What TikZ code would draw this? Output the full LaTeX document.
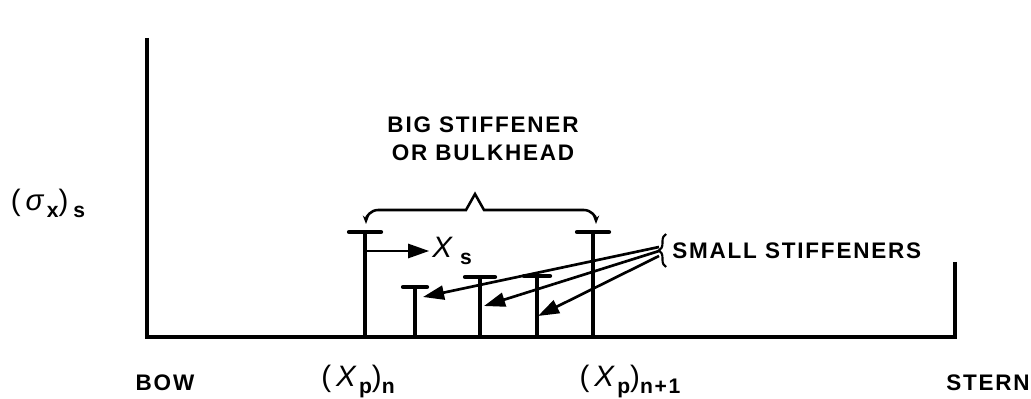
\documentclass[tikz,border=0pt]{standalone}
\usepackage{fontspec}
\setmainfont{Liberation Sans}[LetterSpace=8]
\usetikzlibrary{arrows.meta,positioning,decorations.pathreplacing}
\newcommand{\lowr}[1]{\raisebox{-0.45ex}{\fontsize{15}{15}\selectfont\bfseries #1}}

\begin{document}
\begin{tikzpicture}[x=0.025cm,y=-0.025cm,
  axisline/.style={line width=2.2pt},
  stem/.style={line width=2.6pt},
  flange/.style={line width=3pt,line cap=round},
  lbl/.style={font=\fontsize{16}{20}\selectfont\bfseries,inner sep=0pt},
  big/.style={font=\fontsize{21}{20}\selectfont\mdseries},
  ptr/.style={line width=1.9pt,-{Triangle[length=15pt,width=10pt]}},
]
  \useasboundingbox (0,0) rectangle (1031,399);
  % axes
  \coordinate (ytop) at (147,38);
  \coordinate (origin) at (147,337);
  \coordinate (xend) at (957,337);
  \coordinate (sterntop) at (955,262);
  \coordinate (sternbase) at (955,337);
  \draw[axisline] (ytop) -- (origin) -- (xend);
  \draw[axisline] (sterntop) -- (sternbase);
  % stiffeners: name/x/top/half flange
  \foreach \n/\x/\t/\w in {bigA/365/232/16, smA/415/287/12, smB/480/277/15, smC/537/276/13, bigB/593/232/16} {
    \coordinate (\n-base) at (\x,337);
    \coordinate (\n-top) at (\x,\t);
    \draw[stem] (\n-base) -- (\n-top);
    \draw[flange] (\x-\w,\t) -- (\x+\w,\t);
  }
  % distance from the big stiffener
  \coordinate (xs-start) at (365,251);
  \node[lbl,big,anchor=west] (xs) at (432,251) {\textit{X}\,\lowr{s}};
  \draw[ptr,shorten >=2pt] (xs-start) -- (xs.west);
  % big stiffener label and brace
  \node[lbl,align=center] (bigtext) at (483,139) {BIG STIFFENER\\OR BULKHEAD};
  \draw[line width=1.8pt,{Stealth[length=6pt]}-{Stealth[length=6pt]}]
    (366,224) to[out=90,in=180] (378,210) -- (466,210) -- (475,194) -- (484,210)
    -- (584,210) to[out=0,in=90] (596,224);
  % small stiffeners label and pointers
  \draw[line width=1.5pt,decorate,decoration={brace,amplitude=5pt}] (666,267) -- (666,234);
  \node[lbl,anchor=west] (small) at (672,251) {SMALL STIFFENERS};
  \coordinate (fanA) at (659,247);
  \coordinate (fanB) at (659,251);
  \coordinate (fanC) at (659,256);
  \coordinate (smA-hit) at (423,297);
  \coordinate (smB-hit) at (484,306);
  \coordinate (smC-hit) at (538,316);
  \foreach \s/\e in {fanA/smA-hit, fanB/smB-hit, fanC/smC-hit}
    \draw[ptr] (\s) -- (\e);
  % axis labels
  \node[lbl,big] (sigma) at (48,203) {(\,\textit{σ}\lowr{x})\,\lowr{s}};
  \node[lbl] (bow) at (165,383) {BOW};
  \node[lbl,big] (xpn) at (358,381) {(\,\textit{X}\lowr{p})\lowr{n}};
  \node[lbl,big] (xpn1) at (630,381) {(\,\textit{X}\lowr{p})\lowr{n+1}};
  \node[lbl,anchor=east] (stern) at (1030,383) {STERN};
\end{tikzpicture}
\end{document}
